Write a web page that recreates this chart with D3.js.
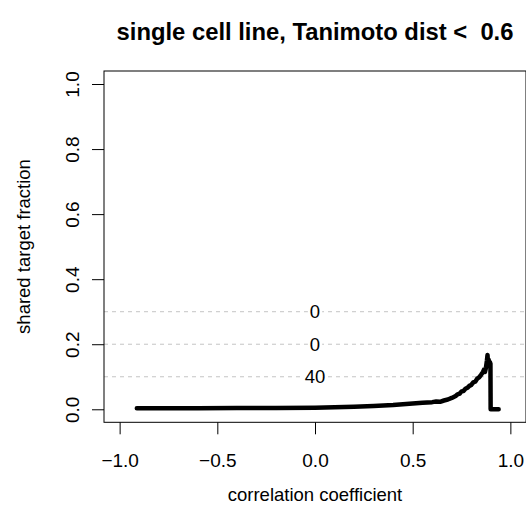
<!DOCTYPE html>
<html><head><meta charset="utf-8">
<script src="https://cdn.jsdelivr.net/npm/d3@7"></script>
<style>body{margin:0;background:#fff}svg{display:block}text{font-family:"Liberation Sans",Arial,Helvetica,sans-serif;white-space:pre}</style>
</head><body>
<svg id="c" width="526" height="517"></svg>
<script>
const titleText = "single cell line, Tanimoto dist <  0.6";
const xLabel = "correlation coefficient";
const yLabel = "shared target fraction";
const xTicks = [-1.0, -0.5, 0.0, 0.5, 1.0];
const yTicks = [0.0, 0.2, 0.4, 0.6, 0.8, 1.0];
const refLines = [0.1, 0.2, 0.3];
const refLabels = ["40", "0", "0"];
const corrX = [-0.912, -0.8, -0.6, -0.4, -0.2, 0.0, 0.1, 0.2, 0.3, 0.4, 0.5, 0.55, 0.6, 0.62, 0.64, 0.66, 0.68, 0.7, 0.71, 0.72, 0.73, 0.74, 0.75, 0.76, 0.77, 0.78, 0.79, 0.8, 0.81, 0.82, 0.83, 0.84, 0.85, 0.86, 0.865, 0.87, 0.875, 0.88, 0.883, 0.886, 0.889, 0.892, 0.895, 0.898, 0.899, 0.94];
const fracY = [0.003, 0.003, 0.003, 0.004, 0.004, 0.005, 0.006, 0.008, 0.010, 0.013, 0.018, 0.020, 0.022, 0.024, 0.023, 0.027, 0.030, 0.035, 0.038, 0.041, 0.046, 0.048, 0.055, 0.056, 0.063, 0.066, 0.072, 0.075, 0.083, 0.085, 0.094, 0.098, 0.106, 0.115, 0.122, 0.115, 0.128, 0.150, 0.167, 0.135, 0.152, 0.140, 0.145, 0.140, 0.000, 0.000];

const svg = d3.select("#c");
const x = d3.scaleLinear().domain([-1.08, 1.08]).range([104, 526]);
const y = d3.scaleLinear().domain([-0.04, 1.04]).range([422.3, 71]);

// reference dashed lines
refLines.forEach((v, i) => {
  svg.append("line").attr("x1", x(-1.08)).attr("x2", x(1.08))
    .attr("y1", y(v)).attr("y2", y(v))
    .attr("stroke", "#c4c4c4").attr("stroke-width", 1).attr("stroke-dasharray", "4,4");
});
refLines.forEach((v, i) => {
  const t = svg.append("text").attr("x", x(0)).attr("y", y(v)).attr("dy", "0.35em")
    .attr("text-anchor", "middle").attr("font-size", 18.5).text(refLabels[i]);
  const bb = t.node().getBBox();
  svg.insert("rect", () => t.node()).attr("x", bb.x - 2).attr("y", y(v) - 3).attr("width", bb.width + 4).attr("height", 6).attr("fill", "#fff");
});

// curve
const line = d3.line().x(d => x(d[0])).y(d => y(d[1]));
svg.append("path").datum(corrX.map((c, i) => [c, fracY[i]]))
  .attr("d", line).attr("fill", "none").attr("stroke", "#000")
  .attr("stroke-width", 4.5).attr("stroke-linejoin", "round").attr("stroke-linecap", "round");

// box
svg.append("rect").attr("x", 104).attr("y", 71).attr("width", 422).attr("height", 351.3)
  .attr("fill", "none").attr("stroke", "#000").attr("stroke-width", 1);

// x axis
const xa = svg.append("g").attr("transform", "translate(0,422.3)")
  .call(d3.axisBottom(x).tickValues(xTicks).tickSize(12).tickPadding(19)
    .tickFormat(d => d3.format(".1f")(d).replace("-", "\u2212")));
xa.select(".domain").remove();
xa.selectAll("line").attr("stroke", "#000");
xa.selectAll("text").attr("font-size", 19).attr("fill", "#000").attr("font-family", "Liberation Sans, Arial, sans-serif");

// y axis
const ya = svg.append("g").attr("transform", "translate(104,0)")
  .call(d3.axisLeft(y).tickValues(yTicks).tickSize(12).tickFormat(d3.format(".1f")));
ya.select(".domain").remove();
ya.selectAll("line").attr("stroke", "#000");
ya.selectAll("text").attr("font-size", 19).attr("fill", "#000").attr("font-family", "Liberation Sans, Arial, sans-serif")
  .attr("x", null).attr("dy", null).attr("text-anchor", "middle")
  .attr("transform", function () { return "translate(-25,0) rotate(-90)"; });

// titles
svg.append("text").attr("x", 315).attr("y", 39.5).attr("text-anchor", "middle")
  .attr("font-size", 23.8).attr("font-weight", "bold").text(titleText);
svg.append("text").attr("x", 315).attr("y", 501).attr("text-anchor", "middle")
  .attr("font-size", 18.5).text(xLabel);
svg.append("text").attr("transform", "translate(29.5,246.5) rotate(-90)").attr("text-anchor", "middle")
  .attr("font-size", 18.5).text(yLabel);
</script>
</body></html>
